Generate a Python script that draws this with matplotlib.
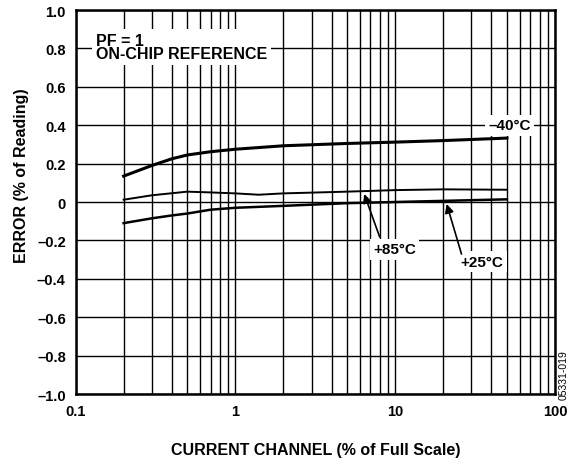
import matplotlib
matplotlib.use('Agg')
import matplotlib.pyplot as plt
import numpy as np

plt.rcParams['font.family'] = ['Liberation Sans', 'DejaVu Sans']
plt.rcParams['font.weight'] = 'bold'

# current channel (% of full scale) vs error (% of reading)
x_m40 = [0.2, 0.3, 0.4, 0.5, 0.7, 1, 2, 5, 10, 20, 50]
err_m40 = [0.135, 0.19, 0.225, 0.245, 0.262, 0.275, 0.293, 0.305, 0.312, 0.32, 0.333]

x_p85 = [0.2, 0.3, 0.5, 0.7, 1, 1.4, 2, 5, 10, 20, 50]
err_p85 = [0.012, 0.035, 0.054, 0.05, 0.045, 0.038, 0.045, 0.054, 0.062, 0.066, 0.064]

x_p25 = [0.2, 0.3, 0.4, 0.5, 0.7, 1, 2, 5, 10, 20, 50]
err_p25 = [-0.11, -0.085, -0.07, -0.06, -0.04, -0.03, -0.02, -0.006, 0.0, 0.006, 0.014]

y_ticks = [-1.0, -0.8, -0.6, -0.4, -0.2, 0, 0.2, 0.4, 0.6, 0.8, 1.0]
y_labels = ['\u20131.0', '\u20130.8', '\u20130.6', '\u20130.4', '\u20130.2', '0',
            '0.2', '0.4', '0.6', '0.8', '1.0']
x_ticks = [0.1, 1, 10, 100]
x_labels = ['0.1', '1', '10', '100']

fig = plt.figure(figsize=(5.69, 4.60), dpi=100)
ax = fig.add_axes([0.1327, 0.1413, 0.8427, 0.8347])

ax.plot(x_m40, err_m40, color='black', lw=2.2, zorder=3)
ax.plot(x_p85, err_p85, color='black', lw=1.4, zorder=3)
ax.plot(x_p25, err_p25, color='black', lw=1.8, zorder=3)

ax.set_xscale('log')
ax.set_xlim(0.1, 100)
ax.set_ylim(-1.0, 1.0)
ax.set_xticks(x_ticks)
ax.set_xticklabels(x_labels)
ax.set_yticks(y_ticks)
ax.set_yticklabels(y_labels)
ax.set_xticks([m * d for d in [0.1, 1, 10] for m in range(2, 10)], minor=True)
ax.xaxis.set_minor_formatter(plt.NullFormatter())
ax.tick_params(which='both', length=0, labelsize=10.5)
ax.tick_params(axis='y', pad=7)
ax.tick_params(axis='x', pad=7.5)

ax.grid(True, which='both', axis='x', color='black', lw=1.0)
ax.grid(True, which='major', axis='y', color='black', lw=1.0)
for s in ax.spines.values():
    s.set_linewidth(1.8)

ax.set_xlabel('CURRENT CHANNEL (% of Full Scale)', fontsize=11.5, fontweight='bold', labelpad=17)
ax.set_ylabel('ERROR (% of Reading)', fontsize=11.5, fontweight='bold', labelpad=6)
ax.yaxis.label.set_y(0.57)

box = dict(facecolor='white', edgecolor='none', pad=2.5)
ax.text(0.134, 0.807, 'PF = 1\nON-CHIP REFERENCE', fontsize=11.5, fontweight='bold',
        ha='left', va='center', linespacing=0.9, bbox=box, zorder=4)
ax.text(52, 0.4, '\u201340\u00b0C', fontsize=11, fontweight='bold',
        ha='center', va='center', bbox=box, zorder=4)

# temperature labels with arrows
ax.text(9.9, -0.245, '+85\u00b0C', fontsize=11, fontweight='bold',
        ha='center', va='center', bbox=box, zorder=4)
ax.annotate('', xy=(6.4, 0.042), xytext=(8.0, -0.182), zorder=5,
            arrowprops=dict(arrowstyle='-|>', color='black', lw=1.2,
                            mutation_scale=13, shrinkA=0, shrinkB=0))
ax.text(35, -0.31, '+25\u00b0C', fontsize=11, fontweight='bold',
        ha='center', va='center', bbox=box, zorder=4)
ax.annotate('', xy=(21, -0.01), xytext=(26, -0.271), zorder=5,
            arrowprops=dict(arrowstyle='-|>', color='black', lw=1.2,
                            mutation_scale=13, shrinkA=0, shrinkB=0))

fig.text(0.991, 0.185, '05331-019', rotation=90, fontsize=7.5, fontweight='normal',
         ha='center', va='center')

fig.savefig('out.png', dpi=100)
